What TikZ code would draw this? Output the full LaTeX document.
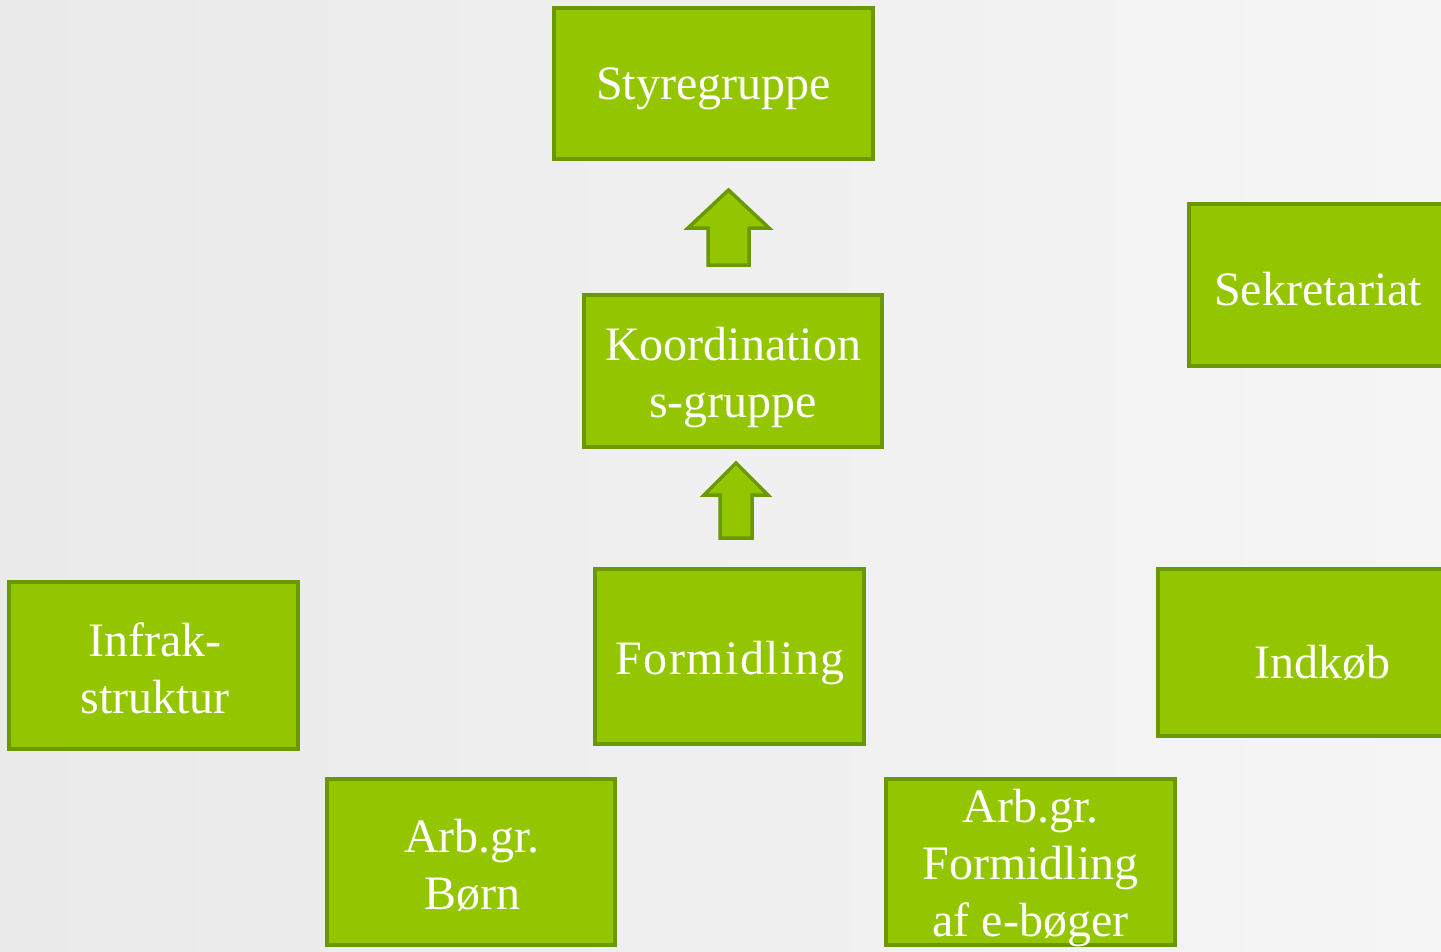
\documentclass[tikz,border=0pt]{standalone}
\usepackage{fontspec}
\setmainfont{Liberation Serif}
\definecolor{boxfill}{RGB}{148,198,0}
\definecolor{boxline}{RGB}{106,152,0}
\definecolor{bgL}{RGB}{234,234,234}
\definecolor{bgR}{RGB}{245,245,245}
\begin{document}
\begin{tikzpicture}[x=1pt,y=-1pt,
  gbox/.style={draw=boxline,fill=boxfill,line width=4pt,inner sep=0pt},
  gtext/.style={text=white,align=center,inner sep=0pt,font=\fontsize{48}{57}\selectfont},
  blockarrow/.style={draw=boxline,fill=boxfill,line width=3.5pt,line join=miter}]
\useasboundingbox (0,0) rectangle (1441,951);
\clip (0,0) rectangle (1441,951);
\shade[left color=bgL,right color=bgR] (0,0) rectangle (1441,951);
% boxes
\node[gbox,minimum width=319pt,minimum height=151pt] (sty) at (713.5,83.5) {};
\node[gbox,minimum width=298pt,minimum height=152pt] (koord) at (733,371) {};
\node[gbox,minimum width=290pt,minimum height=162pt] (sek) at (1334,285) {};
\node[gbox,minimum width=289pt,minimum height=167pt] (infra) at (153.5,665.5) {};
\node[gbox,minimum width=269pt,minimum height=175pt] (form) at (729.5,656.5) {};
\node[gbox,minimum width=300pt,minimum height=167pt] (ind) at (1308,652.5) {};
\node[gbox,minimum width=288pt,minimum height=166pt] (born) at (471,862) {};
\node[gbox,minimum width=289pt,minimum height=166pt] (ebog) at (1030.5,862) {};
% texts
\node[gtext] (stytxt) at (713.5,89) {Styregruppe};
\node[gtext] (koordtxt) at (733,378) {Koordination\\s-gruppe};
\node[gtext] (sektxt) at (1318,289) {Sekretariat};
\node[gtext] (infratxt) at (155,668) {Infrak-\\struktur};
\node[gtext] (formtxt) at (730,663) {\addfontfeature{LetterSpace=3}Formidling};
\node[gtext] (indtxt) at (1322,663) {Indkøb};
\node[gtext] (borntxt) at (472,865) {Arb.gr.\\Børn};
\node[gtext] (ebogtxt) at (1030.5,868) {Arb.gr.\\Formidling\\af e-bøger};
% block arrows
\draw[blockarrow] (708,265) -- (708,228) -- (688,228) -- (728.5,190) -- (769,228) -- (749,228) -- (749,265) -- cycle;
\draw[blockarrow] (720,538) -- (720,495) -- (704,495) -- (736,463) -- (768,495) -- (752,495) -- (752,538) -- cycle;
\end{tikzpicture}
\end{document}
